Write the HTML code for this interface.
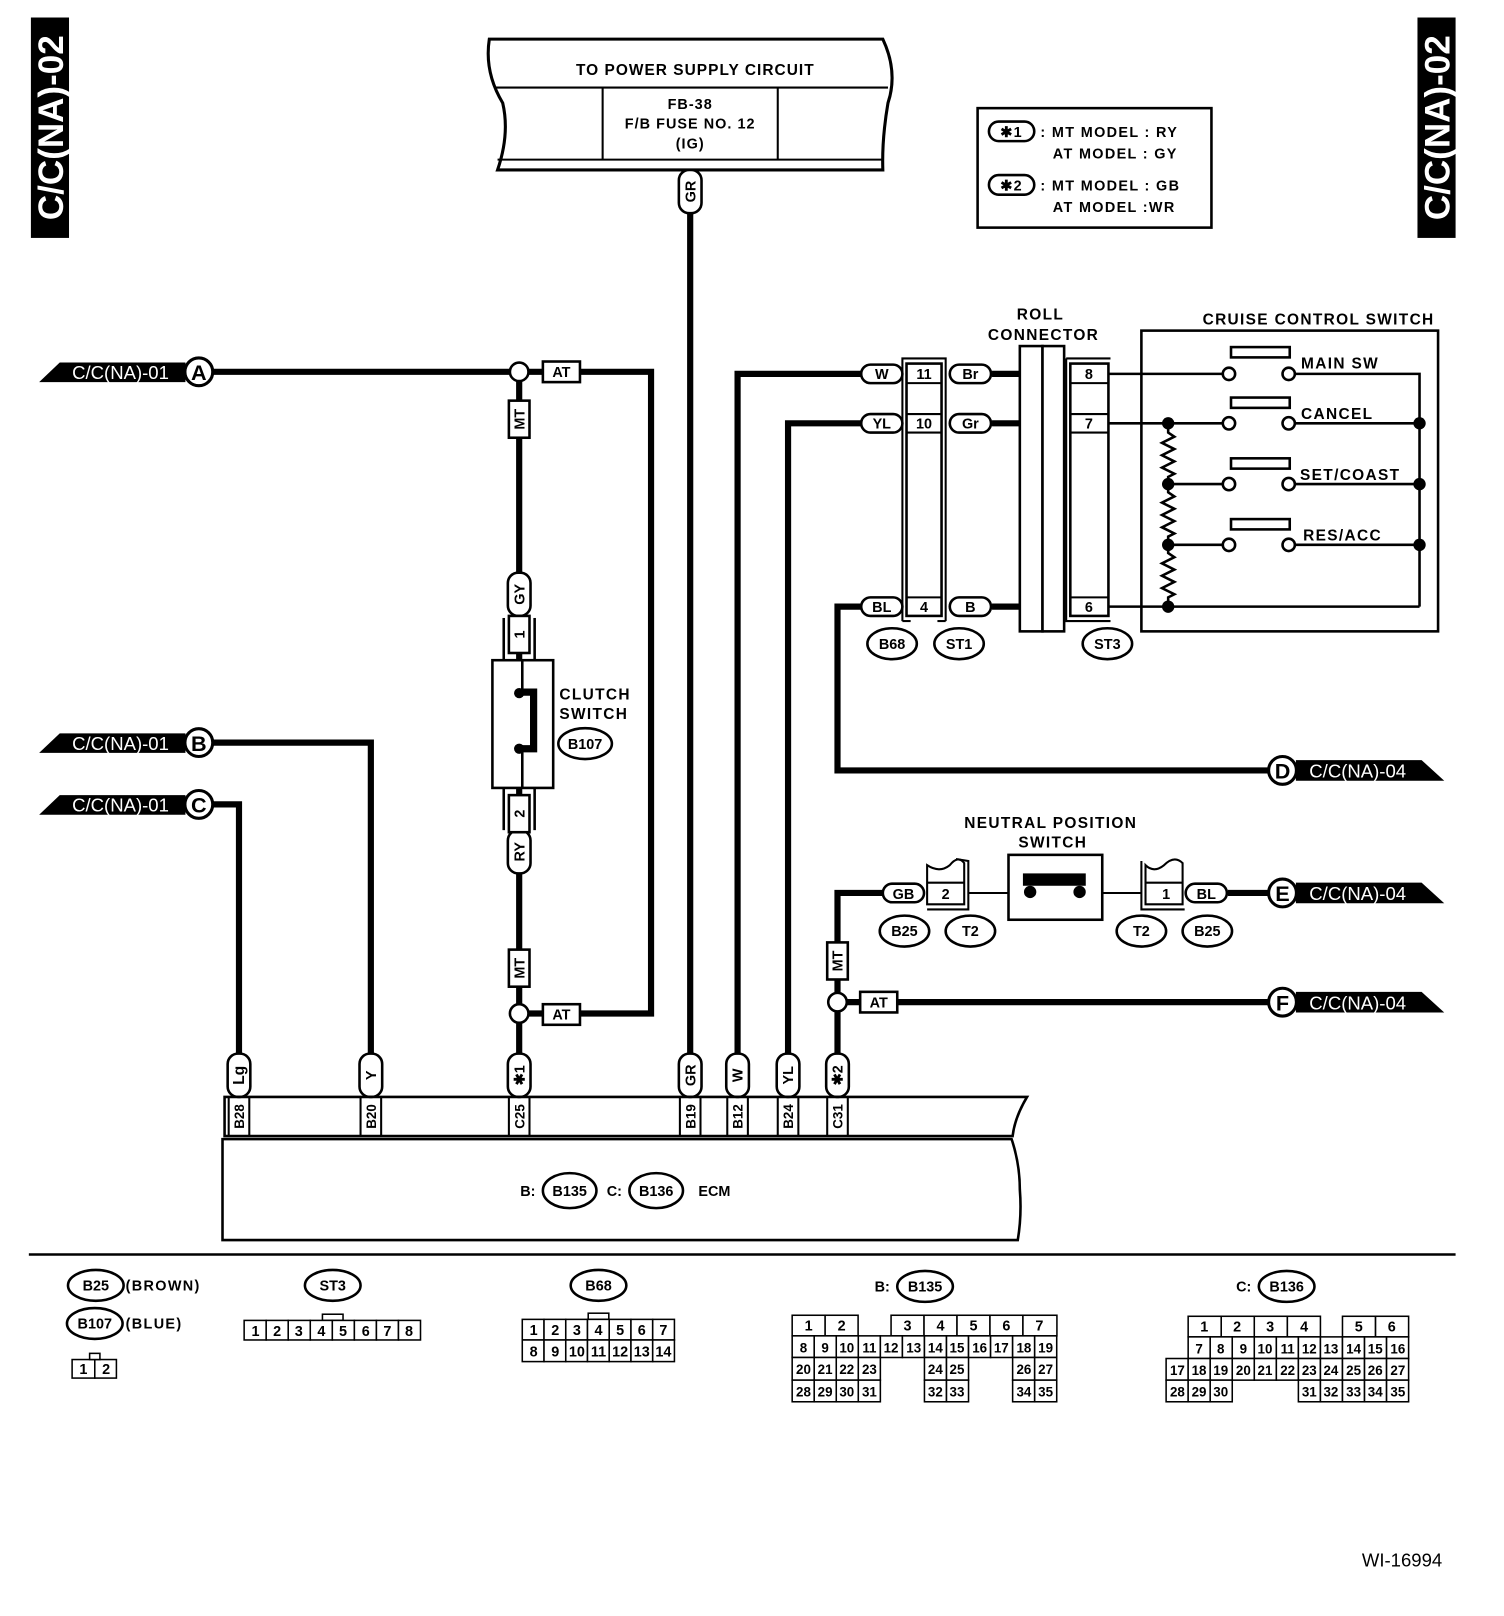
<!DOCTYPE html>
<html><head><meta charset="utf-8"><style>
html,body{margin:0;padding:0;background:#fff}
svg{display:block}
text{font-family:"Liberation Sans",sans-serif;font-weight:bold;fill:#000}
.ls{letter-spacing:1.3px}
.op{font-size:18px;fill:#fff;font-weight:normal}
</style></head><body>
<svg width="1504" height="1616" viewBox="0 0 1460 1569" preserveAspectRatio="none" xmlns="http://www.w3.org/2000/svg">
<rect width="1460" height="1569" fill="#fff"/>
<rect x="30" y="17" width="37" height="214" fill="#000"/>
<text transform="rotate(-90 61 124)" x="61" y="124" text-anchor="middle" font-size="34" style="fill:#fff">C/C(NA)-02</text>
<rect x="1376" y="17" width="37" height="214" fill="#000"/>
<text transform="rotate(-90 1407 124)" x="1407" y="124" text-anchor="middle" font-size="34" style="fill:#fff">C/C(NA)-02</text>

<g fill="none" stroke="#000">
<path d="M475 38 L857 38 Q872 70 862 100 Q856 135 857 165 L483 165 Q495 130 488 100 Q470 70 475 38 Z" stroke-width="3"/>
<line x1="481" y1="85" x2="862" y2="85" stroke-width="2"/>
<line x1="585" y1="85" x2="585" y2="155" stroke-width="2"/>
<line x1="755" y1="85" x2="755" y2="155" stroke-width="2"/>
<line x1="483" y1="155" x2="857" y2="155" stroke-width="2"/>
<rect x="949" y="105" width="227" height="116" stroke-width="2.5"/>
<rect x="960" y="118" width="44" height="19" rx="9.5" stroke-width="2.5"/>
<rect x="960" y="170" width="44" height="19" rx="9.5" stroke-width="2.5"/>
<g stroke-width="6">
<line x1="670" y1="165" x2="670" y2="1063"/>
<polyline points="207,361 632,361 632,984 504,984"/>
<line x1="504" y1="361" x2="504" y2="1063"/>
<polyline points="207,721 360,721 360,1063"/>
<polyline points="207,781 232,781 232,1063"/>
<polyline points="716,1063 716,363 836,363"/>
<polyline points="765,1063 765,411 836,411"/>
<polyline points="836,589 813,589 813,748 1231,748"/>
<polyline points="857,867 813,867 813,1063"/>
<line x1="813" y1="973" x2="1231" y2="973"/>
<line x1="1192" y1="867" x2="1231" y2="867"/>
<line x1="963" y1="363" x2="990" y2="363"/>
<line x1="963" y1="411" x2="990" y2="411"/>
<line x1="963" y1="589" x2="990" y2="589"/>
</g>
</g>

<text x="675" y="73" text-anchor="middle" font-size="15" style="letter-spacing:1px">TO POWER SUPPLY CIRCUIT</text>
<text x="670" y="106" text-anchor="middle" font-size="14" style="letter-spacing:1px">FB-38</text>
<text x="670" y="125" text-anchor="middle" font-size="14" style="letter-spacing:1px">F/B FUSE NO. 12</text>
<text x="670" y="144" text-anchor="middle" font-size="14" style="letter-spacing:1px">(IG)</text>

<g font-size="14" class="ls">
<text x="982" y="133" text-anchor="middle">✱1</text>
<text x="1010" y="133">: MT MODEL : RY</text>
<text x="1022" y="154">AT MODEL  : GY</text>
<text x="982" y="185" text-anchor="middle">✱2</text>
<text x="1010" y="185">: MT MODEL : GB</text>
<text x="1022" y="206">AT MODEL  :WR</text>
</g>

<polygon points="38,371 58,352 180,352 180,371" fill="#000"/>
<text x="117" y="368" text-anchor="middle" class="op">C/C(NA)-01</text>
<polygon points="38,731 58,712 180,712 180,731" fill="#000"/>
<text x="117" y="728" text-anchor="middle" class="op">C/C(NA)-01</text>
<polygon points="38,791 58,772 180,772 180,791" fill="#000"/>
<text x="117" y="788" text-anchor="middle" class="op">C/C(NA)-01</text>
<g fill="#fff" stroke="#000" stroke-width="3">
<circle cx="193" cy="361" r="13.5"/><circle cx="193" cy="721" r="13.5"/><circle cx="193" cy="781" r="13.5"/>
<circle cx="1245" cy="748" r="13.5"/><circle cx="1245" cy="867" r="13.5"/><circle cx="1245" cy="973" r="13.5"/>
</g>
<g font-size="21" text-anchor="middle">
<text x="193" y="369">A</text><text x="193" y="729">B</text><text x="193" y="789">C</text>
<text x="1245" y="756">D</text><text x="1245" y="875">E</text><text x="1245" y="981">F</text>
</g>
<polygon points="1258,738 1380,738 1402,758 1258,758" fill="#000"/>
<text x="1318" y="755" text-anchor="middle" class="op">C/C(NA)-04</text>
<polygon points="1258,857 1380,857 1402,877 1258,877" fill="#000"/>
<text x="1318" y="874" text-anchor="middle" class="op">C/C(NA)-04</text>
<polygon points="1258,963 1380,963 1402,983 1258,983" fill="#000"/>
<text x="1318" y="980" text-anchor="middle" class="op">C/C(NA)-04</text>

<g fill="#fff" stroke="#000" stroke-width="2.5">
<circle cx="504" cy="361" r="9"/><circle cx="504" cy="984" r="9"/><circle cx="813" cy="973" r="9"/>
<rect x="527" y="351" width="36" height="20"/>
<rect x="527" y="975" width="36" height="20"/>
<rect x="835" y="963" width="36" height="20"/>
<rect x="494" y="389" width="20" height="36"/>
<rect x="494" y="922" width="20" height="36"/>
<rect x="803" y="915" width="20" height="36"/>
</g>
<g font-size="14" text-anchor="middle">
<text x="545" y="366">AT</text><text x="545" y="990">AT</text><text x="853" y="978">AT</text>
<text transform="rotate(-90 504 407)" x="504" y="412">MT</text>
<text transform="rotate(-90 504 940)" x="504" y="945">MT</text>
<text transform="rotate(-90 813 933)" x="813" y="938">MT</text>
</g>

<g fill="#fff" stroke="#000" stroke-width="2.5">
<rect x="659" y="165" width="22" height="42" rx="10"/>
<rect x="493" y="556" width="22" height="42" rx="10"/>
<rect x="493" y="806" width="22" height="42" rx="10"/>
<rect x="221" y="1023" width="22" height="42" rx="10"/>
<rect x="349" y="1023" width="22" height="42" rx="10"/>
<rect x="493" y="1023" width="22" height="42" rx="10"/>
<rect x="659" y="1023" width="22" height="42" rx="10"/>
<rect x="705" y="1023" width="22" height="42" rx="10"/>
<rect x="754" y="1023" width="22" height="42" rx="10"/>
<rect x="802" y="1023" width="22" height="42" rx="10"/>
</g>
<g font-size="14" text-anchor="middle">
<text transform="rotate(-90 670 186)" x="670" y="191">GR</text>
<text transform="rotate(-90 504 577)" x="504" y="582">GY</text>
<text transform="rotate(-90 504 827)" x="504" y="832">RY</text>
<text transform="rotate(-90 232 1044)" x="232" y="1049" font-size="15">Lg</text>
<text transform="rotate(-90 360 1044)" x="360" y="1049">Y</text>
<text transform="rotate(-90 504 1044)" x="504" y="1049">✱1</text>
<text transform="rotate(-90 670 1044)" x="670" y="1049">GR</text>
<text transform="rotate(-90 716 1044)" x="716" y="1049">W</text>
<text transform="rotate(-90 765 1044)" x="765" y="1049">YL</text>
<text transform="rotate(-90 813 1044)" x="813" y="1049">✱2</text>
</g>

<g fill="#fff" stroke="#000" stroke-width="2.5">
<rect x="494" y="598" width="20" height="36"/>
<rect x="494" y="772" width="20" height="36"/>
<rect x="478" y="641" width="59" height="124"/>
</g>
<g stroke="#000" stroke-width="2.5" fill="none">
<polyline points="489,600 489,641"/><polyline points="519,600 519,641"/>
<polyline points="489,765 489,806"/><polyline points="519,765 519,806"/>
<line x1="507" y1="641" x2="507" y2="672"/><line x1="507" y1="727" x2="507" y2="765"/>
</g>
<polyline points="505,672 518,672 518,727 505,727" fill="none" stroke="#000" stroke-width="7"/>
<circle cx="504" cy="673" r="5"/><circle cx="504" cy="727" r="5"/>
<g font-size="14" text-anchor="middle">
<text transform="rotate(-90 504 616)" x="504" y="621">1</text>
<text transform="rotate(-90 504 790)" x="504" y="795">2</text>
</g>
<text x="543" y="679" font-size="15" class="ls">CLUTCH</text>
<text x="543" y="698" font-size="15" class="ls">SWITCH</text>
<ellipse cx="568" cy="722" rx="26" ry="15" fill="#fff" stroke="#000" stroke-width="2.5"/>
<text x="568" y="727" font-size="14" text-anchor="middle">B107</text>

<g fill="#fff" stroke="#000" stroke-width="2.5">
<rect x="836" y="354" width="40" height="18" rx="9"/>
<rect x="836" y="402" width="40" height="18" rx="9"/>
<rect x="836" y="580" width="40" height="18" rx="9"/>
<rect x="880" y="353" width="34" height="245"/>
<rect x="922" y="354" width="40" height="18" rx="9"/>
<rect x="922" y="402" width="40" height="18" rx="9"/>
<rect x="922" y="580" width="40" height="18" rx="9"/>
<rect x="990" y="336" width="22" height="277"/>
<rect x="1012" y="336" width="21" height="277"/>
<rect x="1039" y="353" width="37" height="245"/>
</g>
<g stroke="#000" stroke-width="2" fill="none">
<line x1="880" y1="372" x2="914" y2="372"/>
<line x1="880" y1="402" x2="914" y2="402"/><line x1="880" y1="420" x2="914" y2="420"/>
<line x1="880" y1="580" x2="914" y2="580"/>
<polyline points="876,603 876,348 918,348 918,603"/>
<line x1="876" y1="603" x2="884" y2="603"/><line x1="910" y1="603" x2="918" y2="603"/>
<line x1="1039" y1="372" x2="1076" y2="372"/>
<line x1="1039" y1="402" x2="1076" y2="402"/><line x1="1039" y1="420" x2="1076" y2="420"/>
<line x1="1039" y1="580" x2="1076" y2="580"/>
<polyline points="1035,348 1035,603 1078,603"/>
<line x1="1035" y1="348" x2="1078" y2="348"/>
</g>
<g font-size="14" text-anchor="middle">
<text x="856" y="368">W</text><text x="856" y="416">YL</text><text x="856" y="594">BL</text>
<text x="897" y="368">11</text><text x="897" y="416">10</text><text x="897" y="594">4</text>
<text x="942" y="368">Br</text><text x="942" y="416">Gr</text><text x="942" y="594">B</text>
<text x="1057" y="368">8</text><text x="1057" y="416">7</text><text x="1057" y="594">6</text>
<text x="1010" y="310" font-size="15" class="ls">ROLL</text>
<text x="1013" y="330" font-size="15" class="ls">CONNECTOR</text>
<text x="1280" y="315" font-size="15" class="ls">CRUISE CONTROL SWITCH</text>
</g>
<g fill="#fff" stroke="#000" stroke-width="2.5">
<ellipse cx="866" cy="625" rx="24" ry="15"/><ellipse cx="931" cy="625" rx="24" ry="15"/><ellipse cx="1075" cy="625" rx="24" ry="15"/>
</g>
<g font-size="14" text-anchor="middle">
<text x="866" y="630">B68</text><text x="931" y="630">ST1</text><text x="1075" y="630">ST3</text>
</g>

<rect x="1108" y="321" width="288" height="292" fill="none" stroke="#000" stroke-width="2.5"/>
<g stroke="#000" stroke-width="2.5" fill="none">
<line x1="1076" y1="363" x2="1187" y2="363"/><polyline points="1257,363 1378,363 1378,589"/>
<line x1="1076" y1="411" x2="1187" y2="411"/><line x1="1257" y1="411" x2="1378" y2="411"/>
<line x1="1134" y1="470" x2="1187" y2="470"/><line x1="1257" y1="470" x2="1378" y2="470"/>
<line x1="1134" y1="529" x2="1187" y2="529"/><line x1="1257" y1="529" x2="1378" y2="529"/>
<line x1="1076" y1="589" x2="1378" y2="589"/>
<polyline points="1134,411 1134,420 1140,424 1128,430 1140,436 1128,442 1140,448 1128,454 1140,460 1134,463 1134,470 1134,478 1140,482 1128,488 1140,494 1128,500 1140,506 1128,512 1140,518 1134,521 1134,529 1134,537 1140,541 1128,547 1140,553 1128,559 1140,565 1128,571 1140,577 1134,580 1134,589"/>
<rect x="1195" y="337" width="57" height="10"/><rect x="1195" y="386" width="57" height="10"/>
<rect x="1195" y="445" width="57" height="10"/><rect x="1195" y="504" width="57" height="10"/>
</g>
<g fill="#fff" stroke="#000" stroke-width="2.5">
<circle cx="1193" cy="363" r="6"/><circle cx="1251" cy="363" r="6"/>
<circle cx="1193" cy="411" r="6"/><circle cx="1251" cy="411" r="6"/>
<circle cx="1193" cy="470" r="6"/><circle cx="1251" cy="470" r="6"/>
<circle cx="1193" cy="529" r="6"/><circle cx="1251" cy="529" r="6"/>
</g>
<g fill="#000">
<circle cx="1134" cy="411" r="6"/><circle cx="1134" cy="470" r="6"/><circle cx="1134" cy="529" r="6"/><circle cx="1134" cy="589" r="6"/>
<circle cx="1378" cy="411" r="6"/><circle cx="1378" cy="470" r="6"/><circle cx="1378" cy="529" r="6"/>
</g>
<g font-size="15" class="ls">
<text x="1263" y="358">MAIN SW</text><text x="1263" y="407">CANCEL</text>
<text x="1262" y="466">SET/COAST</text><text x="1265" y="525">RES/ACC</text>
</g>

<text x="1020" y="804" font-size="15" text-anchor="middle" class="ls">NEUTRAL POSITION</text>
<text x="1022" y="823" font-size="15" text-anchor="middle" class="ls">SWITCH</text>
<rect x="979" y="830" width="91" height="63" fill="none" stroke="#000" stroke-width="2.5"/>
<rect x="993" y="848" width="61" height="12" fill="#000"/>
<circle cx="1000" cy="866" r="6"/><circle cx="1048" cy="866" r="6"/>
<g stroke="#000" stroke-width="2" fill="none">
<line x1="940" y1="867" x2="979" y2="867"/><line x1="1070" y1="867" x2="1108" y2="867"/>
<path d="M900 878 L900 840 Q912 848 922 840 Q930 830 936 838 L936 878 Z" fill="#fff"/>
<line x1="900" y1="857" x2="936" y2="857"/>
<polyline points="928,834 940,836 940,883 900,883"/>
<path d="M1112 878 L1112 840 Q1120 848 1130 840 Q1140 830 1148 838 L1148 878 Z" fill="#fff"/>
<line x1="1112" y1="857" x2="1148" y2="857"/>
<polyline points="1108,836 1108,883 1150,883"/>
</g>
<g fill="#fff" stroke="#000" stroke-width="2.5">
<rect x="857" y="858" width="40" height="18" rx="9"/>
<rect x="1151" y="858" width="40" height="18" rx="9"/>
<ellipse cx="878" cy="904" rx="24" ry="15"/><ellipse cx="942" cy="904" rx="24" ry="15"/>
<ellipse cx="1108" cy="904" rx="24" ry="15"/><ellipse cx="1172" cy="904" rx="24" ry="15"/>
</g>
<g font-size="14" text-anchor="middle">
<text x="877" y="873">GB</text><text x="918" y="873">2</text><text x="1132" y="873">1</text><text x="1171" y="873">BL</text>
<text x="878" y="909">B25</text><text x="942" y="909">T2</text><text x="1108" y="909">T2</text><text x="1172" y="909">B25</text>
</g>

<g stroke="#000" fill="none" stroke-width="2.5">
<path d="M218 1065 L997 1065 Q985 1085 983 1103 L218 1103 Z"/>
<path d="M216 1106 L982 1106 Q990 1130 990 1155 Q992 1180 988 1204 L216 1204 Z"/>
<g stroke-width="2">
<line x1="222" y1="1065" x2="222" y2="1103"/><line x1="242" y1="1065" x2="242" y2="1103"/>
<line x1="350" y1="1065" x2="350" y2="1103"/><line x1="370" y1="1065" x2="370" y2="1103"/>
<line x1="494" y1="1065" x2="494" y2="1103"/><line x1="514" y1="1065" x2="514" y2="1103"/>
<line x1="660" y1="1065" x2="660" y2="1103"/><line x1="680" y1="1065" x2="680" y2="1103"/>
<line x1="706" y1="1065" x2="706" y2="1103"/><line x1="726" y1="1065" x2="726" y2="1103"/>
<line x1="755" y1="1065" x2="755" y2="1103"/><line x1="775" y1="1065" x2="775" y2="1103"/>
<line x1="803" y1="1065" x2="803" y2="1103"/><line x1="823" y1="1065" x2="823" y2="1103"/>
</g>
<line x1="28" y1="1218" x2="1413" y2="1218" stroke-width="2.5"/>
</g>
<g font-size="13" text-anchor="middle">
<text transform="rotate(-90 232 1084)" x="232" y="1089">B28</text>
<text transform="rotate(-90 360 1084)" x="360" y="1089">B20</text>
<text transform="rotate(-90 504 1084)" x="504" y="1089">C25</text>
<text transform="rotate(-90 670 1084)" x="670" y="1089">B19</text>
<text transform="rotate(-90 716 1084)" x="716" y="1089">B12</text>
<text transform="rotate(-90 765 1084)" x="765" y="1089">B24</text>
<text transform="rotate(-90 813 1084)" x="813" y="1089">C31</text>
</g>
<g fill="#fff" stroke="#000" stroke-width="2.5">
<ellipse cx="553" cy="1156" rx="26" ry="17"/><ellipse cx="637" cy="1156" rx="26" ry="17"/>
</g>
<g font-size="14">
<text x="505" y="1161">B:</text><text x="553" y="1161" text-anchor="middle">B135</text>
<text x="589" y="1161">C:</text><text x="637" y="1161" text-anchor="middle">B136</text>
<text x="678" y="1161">ECM</text>
</g>

<g fill="#fff" stroke="#000" stroke-width="2.5">
<ellipse cx="93" cy="1248" rx="27" ry="15"/><ellipse cx="92" cy="1285" rx="27" ry="15"/>
<ellipse cx="323" cy="1248" rx="27" ry="15"/><ellipse cx="581" cy="1248" rx="27" ry="15"/>
<ellipse cx="898" cy="1249" rx="27" ry="15"/><ellipse cx="1249" cy="1249" rx="27" ry="15"/>
</g>
<g font-size="14">
<text x="93" y="1253" text-anchor="middle">B25</text><text x="122" y="1253" class="ls">(BROWN)</text>
<text x="92" y="1290" text-anchor="middle">B107</text><text x="122" y="1290" class="ls">(BLUE)</text>
<text x="323" y="1253" text-anchor="middle">ST3</text>
<text x="581" y="1253" text-anchor="middle">B68</text>
<text x="898" y="1254" text-anchor="middle">B135</text><text x="849" y="1254">B:</text>
<text x="1249" y="1254" text-anchor="middle">B136</text><text x="1200" y="1254">C:</text>
</g>
<g stroke="#000" stroke-width="1.5" fill="#fff">
<rect x="70" y="1320" width="22" height="18"/><rect x="92" y="1320" width="21" height="18"/>
<rect x="87" y="1314" width="10" height="6"/>
<rect x="313" y="1276" width="20" height="6"/>
<rect x="571" y="1275" width="20" height="6"/>
<rect x="237" y="1282" width="21.4" height="19"/><rect x="258.4" y="1282" width="21.4" height="19"/><rect x="279.8" y="1282" width="21.4" height="19"/><rect x="301.2" y="1282" width="21.4" height="19"/><rect x="322.6" y="1282" width="21.4" height="19"/><rect x="344" y="1282" width="21.4" height="19"/><rect x="365.4" y="1282" width="21.4" height="19"/><rect x="386.8" y="1282" width="21.4" height="19"/>
<rect x="507" y="1281" width="21.1" height="20"/><rect x="528.1" y="1281" width="21.1" height="20"/><rect x="549.2" y="1281" width="21.1" height="20"/><rect x="570.3" y="1281" width="21.1" height="20"/><rect x="591.4" y="1281" width="21.1" height="20"/><rect x="612.5" y="1281" width="21.1" height="20"/><rect x="633.6" y="1281" width="21.1" height="20"/>
<rect x="507" y="1301" width="21.1" height="21"/><rect x="528.1" y="1301" width="21.1" height="21"/><rect x="549.2" y="1301" width="21.1" height="21"/><rect x="570.3" y="1301" width="21.1" height="21"/><rect x="591.4" y="1301" width="21.1" height="21"/><rect x="612.5" y="1301" width="21.1" height="21"/><rect x="633.6" y="1301" width="21.1" height="21"/>
<rect x="769" y="1277" width="32" height="20"/><rect x="801" y="1277" width="32" height="20"/>
<rect x="865" y="1277" width="32" height="20"/><rect x="897" y="1277" width="32" height="20"/><rect x="929" y="1277" width="32" height="20"/><rect x="961" y="1277" width="32" height="20"/><rect x="993" y="1277" width="33" height="20"/>
<rect x="769" y="1297" width="21.4" height="21"/><rect x="790.4" y="1297" width="21.4" height="21"/><rect x="811.8" y="1297" width="21.4" height="21"/><rect x="833.2" y="1297" width="21.4" height="21"/><rect x="854.6" y="1297" width="21.4" height="21"/><rect x="876" y="1297" width="21.4" height="21"/><rect x="897.4" y="1297" width="21.4" height="21"/><rect x="918.8" y="1297" width="21.4" height="21"/><rect x="940.2" y="1297" width="21.4" height="21"/><rect x="961.6" y="1297" width="21.4" height="21"/><rect x="983" y="1297" width="21.4" height="21"/><rect x="1004.4" y="1297" width="21.4" height="21"/>
<rect x="769" y="1318" width="21.4" height="22"/><rect x="790.4" y="1318" width="21.4" height="22"/><rect x="811.8" y="1318" width="21.4" height="22"/><rect x="833.2" y="1318" width="21.4" height="22"/><rect x="897.4" y="1318" width="21.4" height="22"/><rect x="918.8" y="1318" width="21.4" height="22"/><rect x="983" y="1318" width="21.4" height="22"/><rect x="1004.4" y="1318" width="21.4" height="22"/>
<rect x="769" y="1340" width="21.4" height="21"/><rect x="790.4" y="1340" width="21.4" height="21"/><rect x="811.8" y="1340" width="21.4" height="21"/><rect x="833.2" y="1340" width="21.4" height="21"/><rect x="897.4" y="1340" width="21.4" height="21"/><rect x="918.8" y="1340" width="21.4" height="21"/><rect x="983" y="1340" width="21.4" height="21"/><rect x="1004.4" y="1340" width="21.4" height="21"/>
<rect x="1153.4" y="1278" width="32.1" height="20"/><rect x="1185.5" y="1278" width="32.1" height="20"/><rect x="1217.6" y="1278" width="32.1" height="20"/><rect x="1249.7" y="1278" width="32.1" height="20"/>
<rect x="1303.2" y="1278" width="32.1" height="20"/><rect x="1335.3" y="1278" width="32.1" height="20"/>
<rect x="1153.4" y="1298" width="21.4" height="21"/><rect x="1174.8" y="1298" width="21.4" height="21"/><rect x="1196.2" y="1298" width="21.4" height="21"/><rect x="1217.6" y="1298" width="21.4" height="21"/><rect x="1239" y="1298" width="21.4" height="21"/><rect x="1260.4" y="1298" width="21.4" height="21"/><rect x="1281.8" y="1298" width="21.4" height="21"/><rect x="1303.2" y="1298" width="21.4" height="21"/><rect x="1324.6" y="1298" width="21.4" height="21"/><rect x="1346" y="1298" width="21.4" height="21"/>
<rect x="1132" y="1319" width="21.4" height="21"/><rect x="1153.4" y="1319" width="21.4" height="21"/><rect x="1174.8" y="1319" width="21.4" height="21"/><rect x="1196.2" y="1319" width="21.4" height="21"/><rect x="1217.6" y="1319" width="21.4" height="21"/><rect x="1239" y="1319" width="21.4" height="21"/><rect x="1260.4" y="1319" width="21.4" height="21"/><rect x="1281.8" y="1319" width="21.4" height="21"/><rect x="1303.2" y="1319" width="21.4" height="21"/><rect x="1324.6" y="1319" width="21.4" height="21"/><rect x="1346" y="1319" width="21.4" height="21"/>
<rect x="1132" y="1340" width="21.4" height="21"/><rect x="1153.4" y="1340" width="21.4" height="21"/><rect x="1174.8" y="1340" width="21.4" height="21"/>
<rect x="1260.4" y="1340" width="21.4" height="21"/><rect x="1281.8" y="1340" width="21.4" height="21"/><rect x="1303.2" y="1340" width="21.4" height="21"/><rect x="1324.6" y="1340" width="21.4" height="21"/><rect x="1346" y="1340" width="21.4" height="21"/>
</g>
<g font-size="14" text-anchor="middle" style="font-weight:normal">
<text x="81" y="1334">1</text><text x="103" y="1334">2</text>
<text x="248" y="1297">1</text><text x="269" y="1297">2</text><text x="290" y="1297">3</text><text x="312" y="1297">4</text><text x="333" y="1297">5</text><text x="355" y="1297">6</text><text x="376" y="1297">7</text><text x="397" y="1297">8</text>
<text x="518" y="1296">1</text><text x="539" y="1296">2</text><text x="560" y="1296">3</text><text x="581" y="1296">4</text><text x="602" y="1296">5</text><text x="623" y="1296">6</text><text x="644" y="1296">7</text>
<text x="518" y="1317">8</text><text x="539" y="1317">9</text><text x="560" y="1317">10</text><text x="581" y="1317">11</text><text x="602" y="1317">12</text><text x="623" y="1317">13</text><text x="644" y="1317">14</text>
<text x="785" y="1292">1</text><text x="817" y="1292">2</text><text x="881" y="1292">3</text><text x="913" y="1292">4</text><text x="945" y="1292">5</text><text x="977" y="1292">6</text><text x="1009" y="1292">7</text>
</g>
<g font-size="13" text-anchor="middle" style="font-weight:normal">
<text x="780" y="1313">8</text><text x="801" y="1313">9</text><text x="822" y="1313">10</text><text x="844" y="1313">11</text><text x="865" y="1313">12</text><text x="887" y="1313">13</text><text x="908" y="1313">14</text><text x="929" y="1313">15</text><text x="951" y="1313">16</text><text x="972" y="1313">17</text><text x="994" y="1313">18</text><text x="1015" y="1313">19</text>
<text x="780" y="1334">20</text><text x="801" y="1334">21</text><text x="822" y="1334">22</text><text x="844" y="1334">23</text><text x="908" y="1334">24</text><text x="929" y="1334">25</text><text x="994" y="1334">26</text><text x="1015" y="1334">27</text>
<text x="780" y="1356">28</text><text x="801" y="1356">29</text><text x="822" y="1356">30</text><text x="844" y="1356">31</text><text x="908" y="1356">32</text><text x="929" y="1356">33</text><text x="994" y="1356">34</text><text x="1015" y="1356">35</text>
<text x="1169" y="1293" font-size="14">1</text><text x="1201" y="1293" font-size="14">2</text><text x="1233" y="1293" font-size="14">3</text><text x="1266" y="1293" font-size="14">4</text><text x="1319" y="1293" font-size="14">5</text><text x="1351" y="1293" font-size="14">6</text>
<text x="1164" y="1314">7</text><text x="1185" y="1314">8</text><text x="1207" y="1314">9</text><text x="1228" y="1314">10</text><text x="1250" y="1314">11</text><text x="1271" y="1314">12</text><text x="1292" y="1314">13</text><text x="1314" y="1314">14</text><text x="1335" y="1314">15</text><text x="1357" y="1314">16</text>
<text x="1143" y="1335">17</text><text x="1164" y="1335">18</text><text x="1185" y="1335">19</text><text x="1207" y="1335">20</text><text x="1228" y="1335">21</text><text x="1250" y="1335">22</text><text x="1271" y="1335">23</text><text x="1292" y="1335">24</text><text x="1314" y="1335">25</text><text x="1335" y="1335">26</text><text x="1357" y="1335">27</text>
<text x="1143" y="1356">28</text><text x="1164" y="1356">29</text><text x="1185" y="1356">30</text><text x="1271" y="1356">31</text><text x="1292" y="1356">32</text><text x="1314" y="1356">33</text><text x="1335" y="1356">34</text><text x="1357" y="1356">35</text>
</g>
<text x="1361" y="1521" font-size="18" text-anchor="middle" style="font-weight:normal">WI-16994</text>
</svg>
</body></html>
